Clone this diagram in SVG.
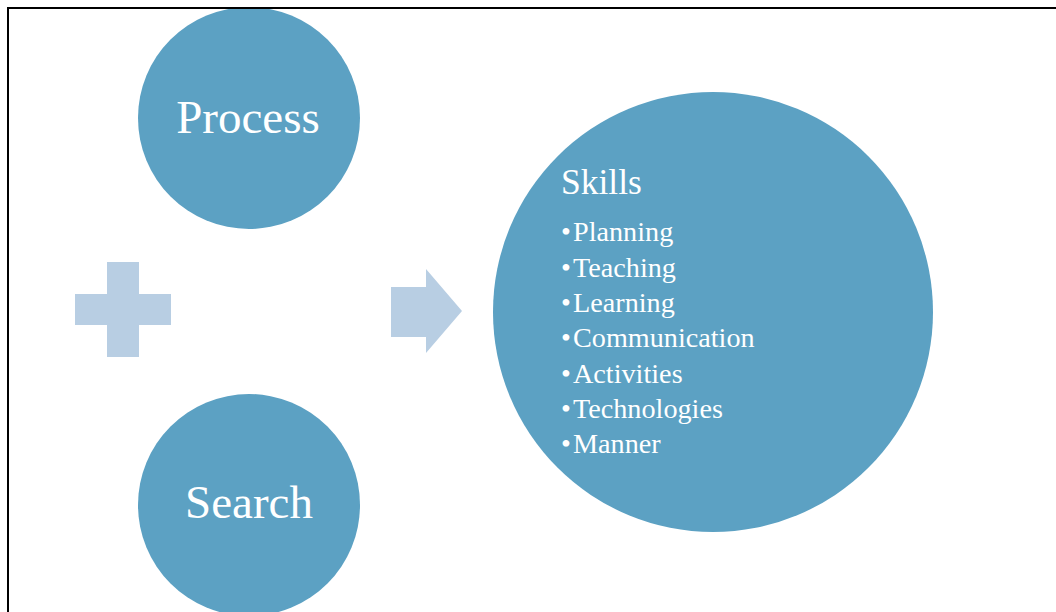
<svg xmlns="http://www.w3.org/2000/svg" width="1056" height="612" viewBox="0 0 1056 612">
<style>
.circ{fill:#5ca1c3}
.shape{fill:#b8cee3}
.t{font-family:"Liberation Serif","Times New Roman",serif;fill:#ffffff}
.big{font-size:47px;text-anchor:middle}
.head{font-size:35.5px}
.item{font-size:28.2px}
</style>
<rect x="0" y="0" width="1056" height="612" fill="#ffffff"/>
<g id="process">
<circle class="circ" cx="249" cy="118" r="111"/>
<text class="t big" x="248" y="133">Process</text>
</g>
<g id="search">
<circle class="circ" cx="249" cy="505" r="111"/>
<text class="t big" x="249" y="518">Search</text>
</g>
<g id="plus">
<path class="shape" d="M107,262 H139 V294 H171 V325 H139 V357 H107 V325 H75 V294 H107 Z"/>
</g>
<g id="connectors">
<path class="shape" d="M391,287 H426 V269 L462,311 L426,353 V337 H391 Z"/>
</g>
<g id="skills">
<circle class="circ" cx="713" cy="312" r="220"/>
<text class="t head" x="561" y="194">Skills</text>
<g class="t item">
<text x="561" y="241">•<tspan x="573">Planning</tspan></text>
<text x="561" y="276.5">•<tspan x="573">Teaching</tspan></text>
<text x="561" y="312">•<tspan x="573">Learning</tspan></text>
<text x="561" y="347.3">•<tspan x="573">Communication</tspan></text>
<text x="561" y="382.5">•<tspan x="573">Activities</tspan></text>
<text x="561" y="418">•<tspan x="573">Technologies</tspan></text>
<text x="561" y="453">•<tspan x="573">Manner</tspan></text>
</g>
</g>
<path d="M8,620 V8 H1060" fill="none" stroke="#000000" stroke-width="2"/>
</svg>
